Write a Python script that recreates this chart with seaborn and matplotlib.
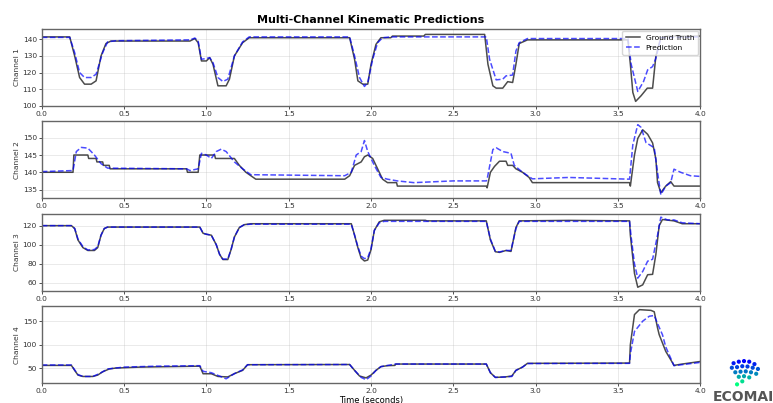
import numpy as np
import pandas as pd
import matplotlib
matplotlib.use("Agg")
import matplotlib.pyplot as plt
import seaborn as sns

# (time, value) breakpoints, one list per series
ch1_truth = [(0, 141.5), (0.17, 141.5), (0.2, 130), (0.23, 117), (0.26, 113), (0.3, 113), (0.33, 115),
             (0.36, 130), (0.39, 137.5), (0.42, 139), (0.9, 139), (0.93, 140.5), (0.95, 138), (0.97, 127),
             (1.0, 127), (1.02, 129), (1.04, 125), (1.07, 112), (1.12, 112), (1.14, 116), (1.17, 130),
             (1.22, 138), (1.26, 141), (1.87, 141), (1.9, 128), (1.92, 115), (1.95, 113), (1.98, 113),
             (2.0, 125), (2.03, 137), (2.06, 141), (2.12, 141), (2.13, 142), (2.32, 142), (2.33, 143),
             (2.69, 143), (2.71, 125), (2.74, 112), (2.76, 110.6), (2.8, 110.6), (2.83, 114.5), (2.86, 114),
             (2.88, 125), (2.9, 137.5), (2.95, 139.7), (3.56, 139.7), (3.575, 125), (3.59, 108),
             (3.607, 102.6), (3.64, 106), (3.678, 110.6), (3.71, 110.6), (3.73, 130), (3.76, 141),
             (3.8, 142), (4.0, 142)]
ch1_pred = [(0, 141.2), (0.17, 141.2), (0.2, 132), (0.23, 120), (0.26, 117), (0.3, 117), (0.33, 119),
            (0.37, 132), (0.4, 138.5), (0.45, 139.2), (0.9, 139.7), (0.93, 140.8), (0.95, 139), (0.97, 128),
            (1.0, 128.5), (1.02, 129), (1.04, 126), (1.07, 117), (1.1, 114.6), (1.13, 116), (1.17, 130),
            (1.22, 138.5), (1.26, 141.5), (1.87, 141.5), (1.9, 130), (1.93, 117), (1.96, 111.6), (1.98, 114),
            (2.01, 128), (2.04, 138), (2.07, 141), (2.12, 141.5), (2.7, 141.5), (2.72, 128), (2.76, 115.6),
            (2.8, 116), (2.82, 118), (2.86, 118.5), (2.88, 133), (2.9, 138), (2.95, 140.5), (3.56, 140.5),
            (3.58, 125), (3.62, 108.6), (3.655, 114.6), (3.68, 121.6), (3.71, 123.6), (3.73, 128.6),
            (3.76, 141), (4.0, 141.5)]

ch2_truth = [(0, 140), (0.19, 140), (0.195, 145), (0.28, 145), (0.285, 144), (0.33, 144), (0.335, 143),
             (0.37, 143), (0.375, 142), (0.41, 142), (0.415, 141), (0.88, 141), (0.885, 140), (0.95, 140),
             (0.96, 145), (1.05, 145), (1.055, 144), (1.17, 144), (1.2, 142), (1.24, 140), (1.27, 139),
             (1.3, 138), (1.84, 138), (1.87, 139), (1.9, 142), (1.94, 143), (1.96, 144.5), (1.98, 145),
             (2.01, 144), (2.04, 141), (2.07, 138), (2.1, 137), (2.155, 137), (2.16, 136), (2.7, 136),
             (2.705, 135.5), (2.725, 140), (2.75, 141.7), (2.78, 143.2), (2.82, 143.2), (2.83, 142),
             (2.86, 142), (2.88, 141), (2.92, 140), (2.96, 138.5), (2.98, 137), (3.57, 137), (3.575, 136),
             (3.6, 145), (3.62, 149.8), (3.65, 152.3), (3.68, 151), (3.71, 148.5), (3.73, 143.8),
             (3.74, 137), (3.76, 134.1), (3.79, 136), (3.82, 137.3), (3.84, 136), (4.0, 136)]
ch2_pred = [(0, 140.2), (0.19, 140.5), (0.21, 146), (0.24, 147.2), (0.28, 147), (0.32, 145), (0.36, 142.5),
            (0.4, 141.2), (0.88, 141), (0.9, 140.5), (0.95, 141), (0.97, 145.5), (1.0, 145), (1.03, 144),
            (1.06, 146), (1.09, 146.7), (1.12, 146), (1.17, 143), (1.22, 141), (1.27, 139.3), (1.84, 139),
            (1.88, 140), (1.91, 145), (1.94, 146), (1.96, 149.2), (1.98, 146), (2.02, 142), (2.06, 138.5),
            (2.1, 138), (2.16, 137.5), (2.26, 137), (2.5, 137.5), (2.7, 137.5), (2.705, 138), (2.74, 146.6),
            (2.76, 147.1), (2.8, 146), (2.85, 145.5), (2.87, 142), (2.92, 140), (2.98, 138.1), (3.2, 138.5),
            (3.57, 138), (3.59, 148), (3.62, 153.8), (3.64, 153), (3.67, 148.6), (3.72, 147.1), (3.74, 140),
            (3.76, 133.5), (3.79, 136), (3.82, 137), (3.84, 140.9), (3.88, 140), (3.94, 139), (4.0, 138.8)]

ch3_truth = [(0, 120), (0.18, 120), (0.2, 117), (0.22, 105), (0.25, 97), (0.28, 94), (0.32, 94), (0.34, 97),
             (0.36, 110), (0.38, 117), (0.4, 118.5), (0.96, 118.5), (0.98, 112), (1.0, 111), (1.03, 110),
             (1.06, 100), (1.08, 90), (1.1, 84.5), (1.13, 84.5), (1.15, 95), (1.17, 108), (1.2, 118),
             (1.23, 121), (1.27, 122), (1.88, 122), (1.9, 110), (1.92, 97), (1.94, 86), (1.96, 83),
             (1.98, 84), (2.0, 95), (2.02, 115), (2.05, 124), (2.08, 125.6), (2.33, 125.6), (2.34, 125),
             (2.7, 125), (2.725, 105), (2.755, 92.7), (2.78, 92), (2.82, 94), (2.85, 93), (2.88, 118),
             (2.9, 125), (3.2, 125.5), (3.57, 125), (3.575, 110), (3.6, 70), (3.62, 55.5), (3.65, 58),
             (3.68, 68.6), (3.71, 69), (3.73, 90), (3.75, 120), (3.77, 126.4), (3.84, 125), (3.89, 122),
             (4.0, 122)]
ch3_pred = [(0, 120), (0.18, 120), (0.2, 117), (0.22, 106), (0.25, 98), (0.28, 94.5), (0.32, 95), (0.34, 98),
            (0.36, 110), (0.38, 117), (0.4, 118.5), (0.96, 118.5), (0.98, 112), (1.0, 111), (1.03, 110),
            (1.06, 100), (1.08, 90), (1.1, 85), (1.13, 85), (1.15, 95), (1.17, 108), (1.2, 118), (1.23, 121),
            (1.27, 121.5), (1.88, 121.5), (1.9, 110), (1.92, 98), (1.94, 88), (1.96, 85.5), (1.98, 86.5),
            (2.0, 96), (2.02, 115), (2.05, 123), (2.08, 124.5), (2.7, 124.5), (2.725, 106), (2.755, 93),
            (2.78, 92.5), (2.82, 94), (2.85, 94), (2.88, 117), (2.9, 124.5), (3.57, 124.5), (3.58, 108),
            (3.6, 80), (3.62, 65), (3.65, 72), (3.68, 82.8), (3.71, 84.8), (3.74, 110), (3.76, 128.9),
            (3.8, 126), (3.84, 126), (3.89, 123), (4.0, 122)]

ch4_truth = [(0, 55.6), (0.18, 55.6), (0.2, 45), (0.22, 35), (0.25, 32), (0.31, 32), (0.34, 35), (0.37, 42),
             (0.41, 48), (0.45, 50), (0.6, 52), (0.96, 54), (0.98, 37.8), (1.03, 37.8), (1.07, 32),
             (1.13, 31), (1.17, 38), (1.22, 45), (1.25, 57.1), (1.87, 57.5), (1.9, 45), (1.93, 33),
             (1.97, 29), (2.0, 35), (2.03, 45), (2.06, 53), (2.1, 55), (2.145, 55.6), (2.15, 58.5),
             (2.7, 58.5), (2.725, 40), (2.755, 30), (2.815, 31), (2.855, 33), (2.88, 45), (2.92, 52),
             (2.95, 60), (3.57, 60.6), (3.575, 100), (3.6, 164), (3.63, 174.5), (3.7, 173), (3.72, 170),
             (3.74, 135.7), (3.75, 121.3), (3.79, 85.5), (3.82, 67.8), (3.84, 55.6), (3.88, 58), (4.0, 64)]
ch4_pred = [(0, 56.5), (0.18, 56.5), (0.2, 46), (0.22, 36), (0.25, 32), (0.31, 32), (0.35, 38), (0.4, 48),
            (0.5, 52), (0.7, 54), (0.96, 55), (0.98, 43), (1.03, 40), (1.1, 30), (1.12, 27), (1.17, 38),
            (1.22, 46), (1.25, 57), (1.87, 57.5), (1.9, 45), (1.94, 30), (1.97, 25), (2.0, 33), (2.03, 45),
            (2.06, 53), (2.1, 55.5), (2.15, 58.5), (2.7, 58.5), (2.725, 40), (2.755, 30), (2.815, 31),
            (2.855, 32), (2.88, 45), (2.92, 52), (2.95, 59.5), (3.57, 60), (3.575, 80), (3.6, 128),
            (3.65, 150), (3.69, 160.5), (3.72, 162), (3.74, 145), (3.77, 121), (3.79, 95), (3.84, 55),
            (4.0, 62)]

channel_names = ["Channel 1", "Channel 2", "Channel 3", "Channel 4"]
truth_series = [ch1_truth, ch2_truth, ch3_truth, ch4_truth]
pred_series = [ch1_pred, ch2_pred, ch3_pred, ch4_pred]
x_ticks = [0.0, 0.5, 1.0, 1.5, 2.0, 2.5, 3.0, 3.5, 4.0]

# logo dots (decoration)
logo_x = [0.2, 0.35, 0.5, 0.65, 0.8, 0.15, 0.3, 0.45, 0.6, 0.75, 0.9, 0.25, 0.4, 0.55, 0.7, 0.85, 0.35, 0.5, 0.65, 0.45, 0.3]
logo_y = [0.85, 0.9, 0.92, 0.9, 0.82, 0.7, 0.72, 0.75, 0.74, 0.7, 0.66, 0.55, 0.57, 0.58, 0.55, 0.5, 0.4, 0.42, 0.38, 0.25, 0.15]


def to_frame(pairs):
    return pd.DataFrame(pairs, columns=["t", "v"])


fig, axes = plt.subplots(4, 1, figsize=(7.73, 4.03), dpi=100)
fig.subplots_adjust(left=0.054, right=0.906, top=0.929, bottom=0.049, hspace=0.2)

fs = 5.4
for i, ax in enumerate(axes):
    sns.lineplot(data=to_frame(truth_series[i]), x="t", y="v", ax=ax, color="k", alpha=0.7,
                 linewidth=1.1, label="Ground Truth", legend=False, sort=False)
    sns.lineplot(data=to_frame(pred_series[i]), x="t", y="v", ax=ax, color="b", alpha=0.7,
                 linewidth=1.1, linestyle="--", label="Prediction", legend=False, sort=False)
    ax.set_xlim(0, 4.0)
    ax.set_xticks(x_ticks)
    ax.set_ylabel(channel_names[i], fontsize=fs, color="#333333", labelpad=2)
    ax.set_xlabel("")
    ax.grid(True, alpha=0.3, linewidth=0.6)
    ax.tick_params(labelsize=fs, colors="#333333", length=2, width=0.6, pad=1.5)
    for s in ax.spines.values():
        s.set_color("#666666")
        s.set_linewidth(1.0)

axes[0].set_ylim(100, 146.5)
axes[0].set_yticks([100, 110, 120, 130, 140])
axes[1].set_yticks([135, 140, 145, 150])
axes[2].set_yticks([60, 80, 100, 120])
axes[3].set_yticks([50, 100, 150])

axes[0].set_title("Multi-Channel Kinematic Predictions", fontsize=8, fontweight="bold", pad=4)
axes[0].legend(loc="upper right", fontsize=fs, handlelength=1.8, borderpad=0.5, labelspacing=0.5,
               borderaxespad=0.3)
axes[3].set_xlabel("Time (seconds)", fontsize=fs + 0.6, labelpad=1)

# logo
fig.text(0.922, 0.004, "ECOMAI", fontsize=10, fontweight="bold", color="#555555")
lax = fig.add_axes([0.94, 0.035, 0.045, 0.075])
lax.scatter(logo_x, logo_y, s=9, c=logo_y, cmap="winter_r", edgecolors="none")
lax.set_xlim(0, 1)
lax.set_ylim(0, 1)
lax.axis("off")

fig.savefig("out.png", dpi=100)
